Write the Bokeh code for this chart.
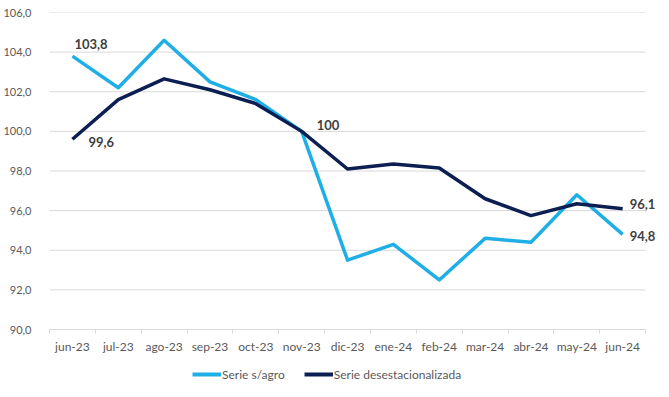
from bokeh.plotting import figure
from bokeh.layouts import column
from bokeh.models import Range1d, FixedTicker, Legend, LegendItem, ColumnDataSource, Label
from bokeh.embed import file_html
from bokeh.resources import INLINE

months = ["jun-23", "jul-23", "ago-23", "sep-23", "oct-23", "nov-23", "dic-23",
          "ene-24", "feb-24", "mar-24", "abr-24", "may-24", "jun-24"]
serie_sagro = [103.8, 102.2, 104.6, 102.5, 101.6, 100.0, 93.5, 94.3, 92.5, 94.6, 94.4, 96.8, 94.8]
serie_desest = [99.6, 101.6, 102.65, 102.1, 101.4, 100.0, 98.1, 98.35, 98.15, 96.6, 95.75, 96.35, 96.1]
y_ticks = [90, 92, 94, 96, 98, 100, 102, 104, 106]
series_names = ["Serie s/agro", "Serie desestacionalizada"]

LIGHT = "#1FAFE6"
DARK = "#0B1F52"
FONT = "Lato"

n = len(months)
xs = [i + 0.5 for i in range(n)]

# plot area: 600px for the categories, extra room on the right for the end labels
W, LEFT, CAT_W = 661, 45, 600
frame_w = W - LEFT
x_end = n * frame_w / CAT_W

p = figure(width=W, height=359, output_backend="svg", toolbar_location=None,
           x_range=Range1d(0, x_end), y_range=Range1d(y_ticks[0], y_ticks[-1]),
           min_border_left=LEFT, min_border_right=0, min_border_top=12, min_border_bottom=30)
p.outline_line_color = None

# horizontal gridlines limited to the category area
p.segment(x0=[0] * len(y_ticks), x1=[n] * len(y_ticks), y0=y_ticks, y1=y_ticks,
          line_color="#D9D9D9", line_width=1)

src = ColumnDataSource(dict(x=xs, a=serie_sagro, d=serie_desest))
p.line("x", "a", source=src, line_color=LIGHT, line_width=3.5, line_join="round")
p.line("x", "d", source=src, line_color=DARK, line_width=3.5, line_join="round")

# axes
p.xaxis.bounds = (0, n)
p.xaxis.ticker = FixedTicker(ticks=xs, minor_ticks=list(range(n + 1)))
p.xaxis.major_label_overrides = {x: m for x, m in zip(xs, months)}
p.xaxis.axis_line_color = "#D9D9D9"
p.xaxis.major_tick_line_color = None
p.xaxis.minor_tick_line_color = "#D9D9D9"
p.xaxis.minor_tick_in = 0
p.xaxis.minor_tick_out = 4
p.xaxis.major_label_standoff = 3
p.xaxis.major_label_text_font_size = "12px"

p.yaxis.ticker = FixedTicker(ticks=y_ticks)
p.yaxis.major_label_overrides = {t: f"{t:.1f}".replace(".", ",") for t in y_ticks}
p.yaxis.axis_line_color = None
p.yaxis.major_tick_line_color = None
p.yaxis.minor_tick_line_color = None
p.yaxis.major_label_standoff = 12
p.yaxis.major_label_text_font_size = "11px"

for ax in (p.xaxis, p.yaxis):
    ax.major_label_text_font = FONT
    ax.major_label_text_color = "#595959"

p.xgrid.grid_line_color = None
p.ygrid.grid_line_color = None

# data labels
def fmt(v):
    return str(int(v)) if v == int(v) else f"{v:.1f}".replace(".", ",")

labels = [
    (xs[0], serie_sagro[0], 2, 12),
    (xs[0], serie_desest[0], 16, -3),
    (xs[5], serie_desest[5], 15, 6),
    (xs[-1], serie_desest[-1], 7, 5),
    (xs[-1], serie_sagro[-1], 7, -2),
]
for x, y, xo, yo in labels:
    p.add_layout(Label(x=x, y=y, x_offset=xo, y_offset=yo, text=fmt(y),
                       text_font=FONT, text_font_size="13px", text_font_style="bold",
                       text_color="#404040", text_baseline="middle", text_align="left"))

# legend strip below the chart (same borders as the chart so the frames align)
q = figure(width=W, height=30, output_backend="svg", toolbar_location=None,
           x_range=Range1d(-2, -1), y_range=Range1d(0, 1),
           x_axis_location=None, y_axis_location=None,
           min_border_left=LEFT, min_border_right=0, min_border_top=0, min_border_bottom=0)
q.outline_line_color = None
q.grid.grid_line_color = None
qsrc = ColumnDataSource(dict(x=xs, a=serie_sagro, d=serie_desest))
la = q.line("x", "a", source=qsrc, line_color=LIGHT, line_width=4)
ld = q.line("x", "d", source=qsrc, line_color=DARK, line_width=4)
legend = Legend(items=[LegendItem(label=series_names[0], renderers=[la]),
                       LegendItem(label=series_names[1], renderers=[ld])],
                orientation="horizontal", location="left",
                label_text_font=FONT, label_text_font_size="12px", label_text_color="#595959",
                glyph_width=29, glyph_height=16, label_standoff=1, spacing=19,
                border_line_color=None, background_fill_alpha=0, padding=0, margin=143)
q.add_layout(legend, "center")

layout = column(p, q, spacing=0)
open("out.html", "w").write(file_html(layout, INLINE))
